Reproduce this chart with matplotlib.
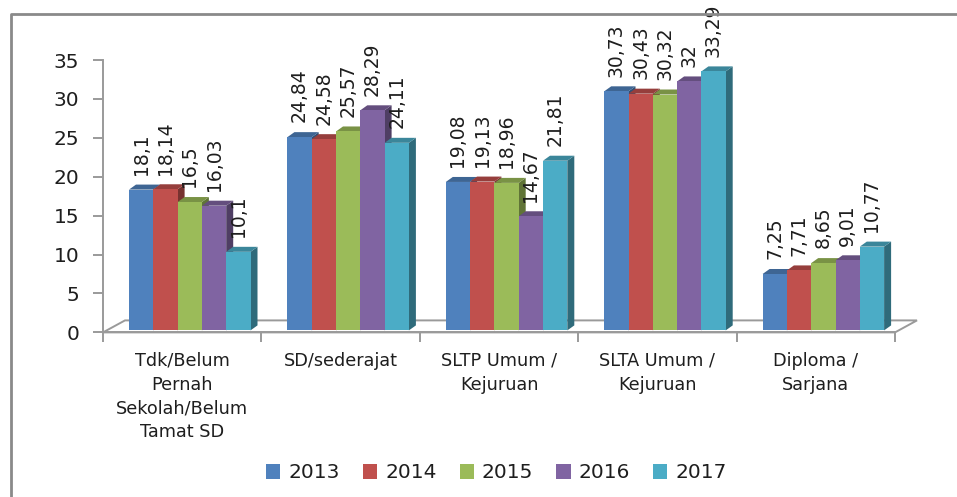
import numpy as np
import matplotlib
matplotlib.use("Agg")
import matplotlib.pyplot as plt
from matplotlib.patches import Polygon, Patch
from matplotlib.lines import Line2D
from matplotlib.transforms import ScaledTranslation

categories = ["Tdk/Belum\nPernah\nSekolah/Belum\nTamat SD", "SD/sederajat",
              "SLTP Umum /\nKejuruan", "SLTA Umum /\nKejuruan", "Diploma /\nSarjana"]
years = ["2013", "2014", "2015", "2016", "2017"]
v2013 = [18.1, 24.84, 19.08, 30.73, 7.25]
v2014 = [18.14, 24.58, 19.13, 30.43, 7.71]
v2015 = [16.5, 25.57, 18.96, 30.32, 8.65]
v2016 = [16.03, 28.29, 14.67, 32, 9.01]
v2017 = [10.1, 24.11, 21.81, 33.29, 10.77]
series = [v2013, v2014, v2015, v2016, v2017]
colors = ["#4F81BD", "#C0504D", "#9BBB59", "#8064A2", "#4BACC6"]

W, H = 957, 497
fig = plt.figure(figsize=(W / 100, H / 100), dpi=100)
ax = fig.add_axes([103 / W, (H - 332.4) / H, 792 / W, 272.3 / H])
ax.set_xlim(0, 5)
ax.set_ylim(0, 35)

# pixel -> data conversion for the fake 3D depth
px_x = 5 / 792
px_y = 35 / 272.3
gray = "#9A9A9A"
txt = "#1E1E1E"


def shade(c, f):
    r, g, b = matplotlib.colors.to_rgb(c)
    return (r * f, g * f, b * f)


def fmt(v):
    s = f"{v:.2f}".rstrip("0").rstrip(".")
    return s.replace(".", ",")


# floor
fx, fy = 22 * px_x, 12 * px_y
floor = Polygon([(0, 0), (5, 0), (5 + fx, fy), (fx, fy)], closed=True,
                facecolor="white", edgecolor=gray, linewidth=1.4, zorder=1, clip_on=False)
ax.add_patch(floor)

bw = 24.3 / 158.4
start = 26 / 158.4
dx, dy = 7 * px_x, 5 * px_y
lift = ScaledTranslation(0, 2 / 100, fig.dpi_scale_trans)

for k, vals in enumerate(series):
    for i, v in enumerate(vals):
        x0 = i + start + k * bw
        x1 = x0 + bw
        z = 2 + k
        side = Polygon([(x1, 0), (x1 + dx, dy), (x1 + dx, v + dy), (x1, v)],
                       facecolor=shade(colors[k], 0.62), edgecolor="none", zorder=z, clip_on=False,
                       transform=ax.transData + lift)
        top = Polygon([(x0, v), (x1, v), (x1 + dx, v + dy), (x0 + dx, v + dy)],
                      facecolor=shade(colors[k], 0.78), edgecolor="none", zorder=z, clip_on=False,
                      transform=ax.transData + lift)
        ax.add_patch(side)
        ax.add_patch(top)
        bars = ax.bar(x0, v, width=bw, align="edge", color=colors[k], zorder=z + 0.5, clip_on=False)
        bars[0].set_transform(ax.transData + lift)
        ax.annotate(fmt(v), (x0 + bw / 2, v), xytext=(0, 12), textcoords="offset points",
                    rotation=90, ha="center", va="bottom", fontsize=13.5, color=txt, zorder=20)

for s in ["top", "right"]:
    ax.spines[s].set_visible(False)
for s in ["left", "bottom"]:
    ax.spines[s].set_color(gray)
    ax.spines[s].set_linewidth(1.4)

ax.set_yticks(np.arange(0, 36, 5))
ax.tick_params(axis="y", direction="out", length=7, width=1.4, color=gray,
               labelsize=14.5, labelcolor=txt, pad=10)
ax.set_xticks(np.arange(0, 6))
ax.set_xticklabels([])
ax.tick_params(axis="x", which="major", direction="out", length=7, width=1.4, color=gray)
ax.set_xticks(np.arange(5) + 0.5, minor=True)
ax.set_xticklabels(categories, minor=True, fontsize=12.7, color=txt, linespacing=1.42, va="top")
ax.tick_params(axis="x", which="minor", length=0, pad=14)

handles = [Patch(facecolor=c, edgecolor="none") for c in colors]
fig.legend(handles, years, loc="center", bbox_to_anchor=(496.5 / W, 1 - 473 / H), ncol=5,
           frameon=False, fontsize=14.5, handlelength=0.7, handleheight=0.7,
           handletextpad=0.4, columnspacing=1.15, labelcolor=txt)

# outer frame of the original chart
fig.add_artist(Line2D([11 / W, 11 / W, 1.0], [0, 1 - 14 / H, 1 - 14 / H],
                      color="#8A8A8A", linewidth=2, transform=fig.transFigure))

fig.savefig("out.png", dpi=100)
